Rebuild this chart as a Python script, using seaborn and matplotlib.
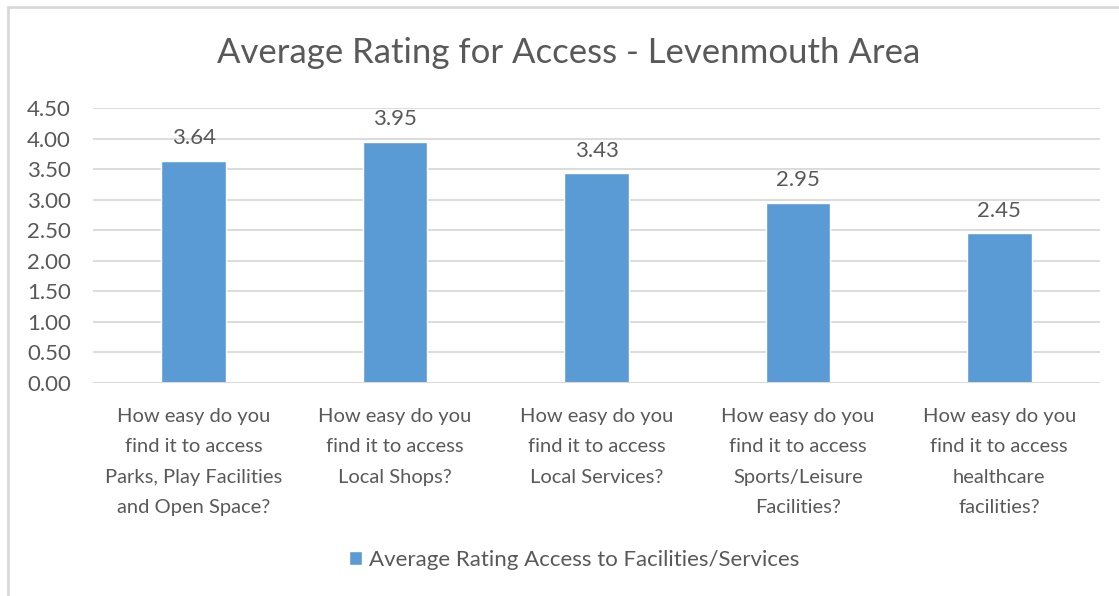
import matplotlib
matplotlib.use("Agg")
import matplotlib.pyplot as plt
import matplotlib.patches as mpatches
import pandas as pd
import seaborn as sns

categories = [
    "How easy do you\nfind it to access\nParks, Play Facilities\nand Open Space?",
    "How easy do you\nfind it to access\nLocal Shops?",
    "How easy do you\nfind it to access\nLocal Services?",
    "How easy do you\nfind it to access\nSports/Leisure\nFacilities?",
    "How easy do you\nfind it to access\nhealthcare\nfacilities?",
]
ratings = [3.64, 3.95, 3.43, 2.95, 2.45]
series_name = "Average Rating Access to Facilities/Services"
y_ticks = [0.0, 0.5, 1.0, 1.5, 2.0, 2.5, 3.0, 3.5, 4.0, 4.5]

df = pd.DataFrame({"question": categories, "rating": ratings})

sns.set_theme(style="white")
plt.rcParams["font.family"] = ["Lato", "DejaVu Sans"]

text_col = "#595959"
bar_col = "#5B9BD5"
grid_col = "#D9D9D9"

fig = plt.figure(figsize=(11.19, 5.96), dpi=100)
# chart frame (cut off at right and bottom)
fig.patches.append(mpatches.Rectangle((8 / 1119, -0.1), 1.2, 1 - 7 / 596 + 0.1,
                                      transform=fig.transFigure, fill=False,
                                      edgecolor=grid_col, linewidth=2))

ax = fig.add_axes([93 / 1119, 1 - 383 / 596, (1100 - 93) / 1119, (383 - 108) / 596])
sns.barplot(data=df, x="question", y="rating", color=bar_col, width=0.32,
            saturation=1, ax=ax, label=series_name, zorder=3)

ax.set_ylim(0, 4.5)
ax.set_yticks(y_ticks)
ax.set_yticklabels([f"{t:.2f}" for t in y_ticks], color=text_col, fontsize=16)
ax.set_xlim(-0.5, len(categories) - 0.5)
ax.set_xticks(range(len(categories)))
ax.set_xticklabels(categories, fontsize=14.5, color=text_col, linespacing=1.95)
ax.tick_params(axis="x", length=0, pad=18)
ax.tick_params(axis="y", length=0, pad=16)
ax.set_xlabel("")
ax.set_ylabel("")
ax.grid(axis="y", color=grid_col, linewidth=1.3, zorder=0)
for s in ax.spines.values():
    s.set_visible(False)
ax.axhline(0, color=grid_col, linewidth=1.5, zorder=4)

for i, v in enumerate(ratings):
    ax.text(i, v + 0.2, f"{v:.2f}", ha="center", va="bottom", fontsize=16, color=text_col)

fig.text(0.5085, 1 - 53 / 596, "Average Rating for Access - Levenmouth Area",
         ha="center", va="center", fontsize=25, color=text_col)

ax.legend(loc="center", bbox_to_anchor=(0.513, 1 - 560 / 596), bbox_transform=fig.transFigure,
          frameon=False, fontsize=16, labelcolor=text_col, handlelength=0.6,
          handleheight=0.6, handletextpad=0.3)

fig.savefig("out.png", dpi=100)
